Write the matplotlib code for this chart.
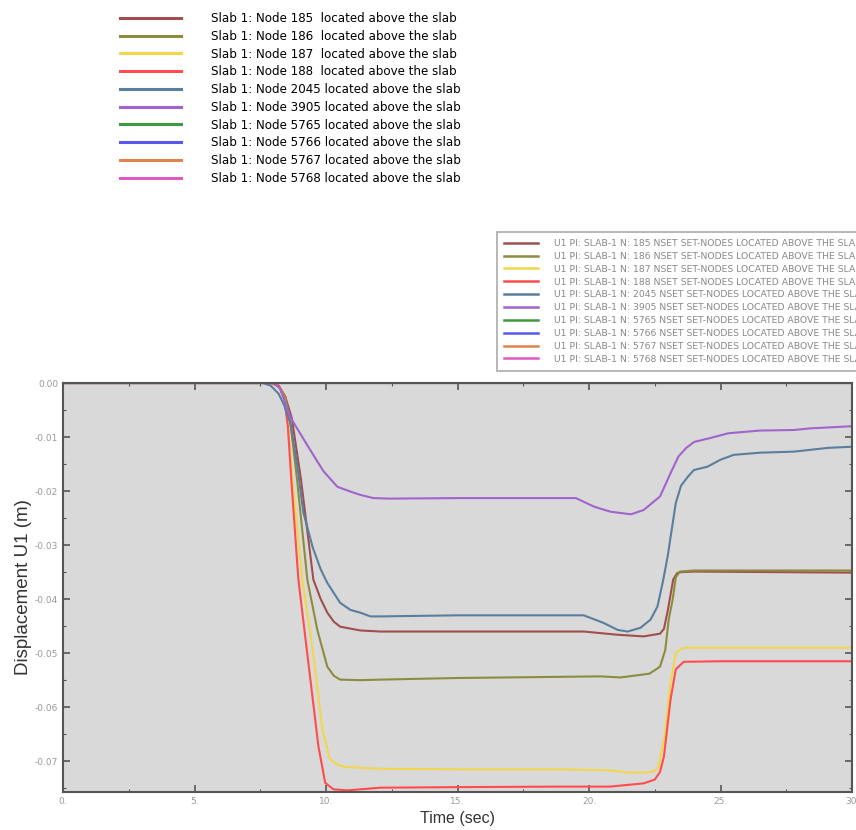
import matplotlib
matplotlib.use("Agg")
import matplotlib.pyplot as plt
from matplotlib.lines import Line2D
from matplotlib.ticker import MultipleLocator, FuncFormatter

# node ids and colours
nodes = ["185", "186", "187", "188", "2045", "3905", "5765", "5766", "5767", "5768"]
colors = ["#a04e4e", "#8c8c3e", "#f2d64c", "#ff4c4c", "#5a7e9e",
          "#a064cc", "#3f9a3f", "#5858ee", "#e0844c", "#e058c2"]

# time (sec) / displacement U1 (m)
t_185 = [0, 7.9, 8.2, 8.45, 8.7, 9.05, 9.52, 9.8, 10.05, 10.3, 10.54, 11.3, 12.07, 15, 19.8,
         21.1, 22.08, 22.7, 22.85, 23.0, 23.2, 23.35, 23.5, 24, 27, 30]
u_185 = [0, 0, -0.0005, -0.0025, -0.0065, -0.0179, -0.0364, -0.040, -0.0425, -0.0442, -0.0451,
         -0.0458, -0.046, -0.046, -0.046, -0.0466, -0.0469, -0.0464, -0.0455, -0.042, -0.0364,
         -0.0352, -0.035, -0.0349, -0.035, -0.0351]

t_186 = [0, 7.9, 8.2, 8.45, 8.65, 8.9, 9.29, 9.67, 10.05, 10.3, 10.54, 11.3, 12.07, 15, 20.44,
         21.2, 22.3, 22.7, 22.9, 23.03, 23.18, 23.3, 23.45, 24, 30]
u_186 = [0, 0, -0.0005, -0.0025, -0.0075, -0.0179, -0.0364, -0.0457, -0.0525, -0.0542, -0.0549,
         -0.055, -0.0549, -0.0546, -0.0543, -0.0545, -0.0538, -0.0525, -0.0494, -0.0438, -0.0401,
         -0.036, -0.0349, -0.0347, -0.0347]

t_187 = [0, 7.9, 8.2, 8.4, 8.55, 8.72, 9.1, 9.48, 9.86, 10.16, 10.5, 10.81, 12.07, 15, 18.9,
         20.8, 21.47, 22.2, 22.5, 22.65, 22.9, 23.1, 23.3, 23.6, 25, 30]
u_187 = [0, 0, -0.0005, -0.0025, -0.007, -0.0179, -0.0364, -0.0488, -0.0641, -0.0697, -0.0708,
         -0.0711, -0.0714, -0.0715, -0.0715, -0.0717, -0.0721, -0.0721, -0.0718, -0.0709, -0.0647,
         -0.0555, -0.0499, -0.049, -0.049, -0.049]

t_188 = [0, 7.9, 8.2, 8.4, 8.55, 8.68, 8.95, 9.33, 9.71, 9.97, 10.28, 10.81, 12.07, 15, 18.9,
         20.8, 22.08, 22.5, 22.7, 22.85, 23.1, 23.3, 23.6, 25, 30]
u_188 = [0, 0, -0.0005, -0.0025, -0.008, -0.0179, -0.0364, -0.0518, -0.0672, -0.074, -0.0752,
         -0.0754, -0.0749, -0.0748, -0.0747, -0.0747, -0.0741, -0.0734, -0.072, -0.0691, -0.0586,
         -0.053, -0.0516, -0.0515, -0.0515]

t_2045 = [0, 7.6, 7.9, 8.2, 8.4, 8.64, 8.9, 9.14, 9.5, 9.8, 10.05, 10.54, 10.93, 11.3, 11.69,
          12.07, 15, 19.8, 20.55, 21.09, 21.47, 21.96, 22.34, 22.6, 22.8, 22.99, 23.3, 23.5,
          23.75, 23.99, 24.5, 25.0, 25.5, 26.5, 27.8, 29.1, 30]
u_2045 = [0, 0, -0.0005, -0.002, -0.004, -0.0074, -0.015, -0.024, -0.0305, -0.0345, -0.037,
          -0.0407, -0.042, -0.0425, -0.0432, -0.0432, -0.043, -0.043, -0.0444, -0.0457, -0.046,
          -0.0453, -0.0438, -0.0414, -0.037, -0.0321, -0.0222, -0.019, -0.0174, -0.0161,
          -0.0155, -0.0142, -0.0133, -0.0129, -0.0127, -0.012, -0.0118]

t_3905 = [0, 8.0, 8.25, 8.4, 8.64, 9.0, 9.4, 9.9, 10.43, 10.93, 11.3, 11.8, 12.45, 15, 19.5,
          20.2, 20.8, 21.1, 21.6, 22.08, 22.7, 23.1, 23.4, 23.7, 24.0, 24.6, 25.3, 26.5, 27.8,
          28.4, 30]
u_3905 = [0, 0, -0.001, -0.003, -0.0063, -0.0092, -0.0124, -0.0163, -0.0192, -0.0201, -0.0207,
          -0.0213, -0.0214, -0.0213, -0.0213, -0.0229, -0.0238, -0.024, -0.0243, -0.0235, -0.021,
          -0.0167, -0.0136, -0.012, -0.0109, -0.0102, -0.0093, -0.0088, -0.0087, -0.0084, -0.008]

t_flat = [0, 30]
u_5765 = [0, 0]
u_5766 = [0, 0]
u_5767 = [0, 0]
u_5768 = [0, 0]

series = [(t_185, u_185), (t_186, u_186), (t_187, u_187), (t_188, u_188),
          (t_2045, u_2045), (t_3905, u_3905), (t_flat, u_5765), (t_flat, u_5766),
          (t_flat, u_5767), (t_flat, u_5768)]

W, H = 856, 830
fig = plt.figure(figsize=(W / 100, H / 100), dpi=100)
ax = fig.add_axes([63 / W, 1 - 792 / H, (852 - 63) / W, (792 - 383) / H])
ax.set_facecolor("#d9d9d9")

for (t, u), c in zip(series, colors):
    ax.plot(t, u, color=c, lw=1.5, solid_capstyle="round")

ax.set_xlim(0, 30)
ax.set_ylim(-0.0757, 0)
ax.xaxis.set_major_locator(MultipleLocator(5))
ax.xaxis.set_minor_locator(MultipleLocator(2.5))
ax.yaxis.set_major_locator(MultipleLocator(0.01))
ax.yaxis.set_minor_locator(MultipleLocator(0.005))
ax.xaxis.set_major_formatter(FuncFormatter(lambda v, p: f"{v:.0f}."))
ax.yaxis.set_major_formatter(FuncFormatter(lambda v, p: f"{v:.2f}" if abs(v) > 1e-9 else "0.00"))
ax.tick_params(which="both", direction="in", top=True, right=True, colors="#555555",
               labelcolor="#999999", labelsize=6.5, width=1.2)
ax.tick_params(which="major", length=5)
ax.tick_params(which="minor", length=2.5, width=0.8)
for s in ax.spines.values():
    s.set_color("#555555")
    s.set_linewidth(1.5)

ax.set_xlabel("Time (sec)", fontsize=11.5, color="#333333", family="Liberation Sans", labelpad=4)
ax.set_ylabel("Displacement U1 (m)", fontsize=13.5, color="#333333", family="Liberation Sans",
              labelpad=2)

# legend at top left
h1 = [Line2D([], [], color=c, lw=2.2) for c in colors]
lab1 = [f"Slab 1: Node {n}{'  ' if len(n) == 3 else ' '}located above the slab" for n in nodes]
fig.legend(h1, lab1, loc="upper left", bbox_to_anchor=(120 / W, 1 - 12 / H),
           frameon=False, fontsize=8.6, handlelength=5.1, handletextpad=2.5,
           labelspacing=0.40, borderpad=0, borderaxespad=0)

# boxed legend on the right
h2 = [Line2D([], [], color=c, lw=1.8) for c in colors]
lab2 = [f"U1 PI: SLAB-1 N: {n} NSET SET-NODES LOCATED ABOVE THE SLAB" for n in nodes]
leg2 = fig.legend(h2, lab2, loc="upper left", bbox_to_anchor=(497 / W, 1 - 232 / H),
                  fontsize=6.7, handlelength=3.7, handletextpad=1.7, labelspacing=0.415,
                  borderpad=0.75, borderaxespad=0, fancybox=False, framealpha=1,
                  edgecolor="#aaaaaa", labelcolor="#888888")
leg2.get_frame().set_linewidth(1.2)

fig.savefig("out.png", dpi=100)
